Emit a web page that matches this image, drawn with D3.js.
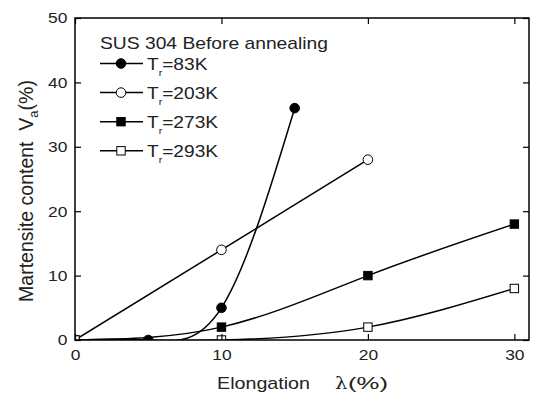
<!DOCTYPE html>
<html>
<head>
<meta charset="utf-8">
<script src="https://cdn.jsdelivr.net/npm/d3@7"></script>
<style>
  html, body { margin: 0; padding: 0; background: #fff; }
  svg { display: block; font-family: "Liberation Sans", Arial, sans-serif; }
</style>
</head>
<body>
<svg id="chart" width="533" height="396"></svg>
<script>
// data
const elong83 = [0, 5, 10, 15];
const va83 = [0, 0, 5, 36];
const elong203 = [0, 10, 20];
const va203 = [0, 14, 28];
const elong273 = [0, 10, 20, 30];
const va273 = [0, 2, 10, 18];
const elong293 = [0, 10, 20, 30];
const va293 = [0, 0, 2, 8];

const xTicks = [0, 10, 20, 30];
const yTicks = [0, 10, 20, 30, 40, 50];
const legendLabels = ['83K', '203K', '273K', '293K'];

const series = [
  { label: legendLabels[0], x: elong83, y: va83, shape: 'circle', fill: '#000' },
  { label: legendLabels[1], x: elong203, y: va203, shape: 'circle', fill: '#fff' },
  { label: legendLabels[2], x: elong273, y: va273, shape: 'square', fill: '#000' },
  { label: legendLabels[3], x: elong293, y: va293, shape: 'square', fill: '#fff' },
];

const margin = { left: 75, right: 4, top: 18, bottom: 56 };
const width = 533, height = 396;
const sx = 1.16; // the reference type is a bit wider than it is tall
const textColor = '#222';

const x = d3.scaleLinear().domain([0, 31]).range([margin.left, width - margin.right]);
const y = d3.scaleLinear().domain([0, 50]).range([height - margin.bottom, margin.top]);

const svg = d3.select('#chart');

svg.append('defs').append('clipPath').attr('id', 'plot')
  .append('rect')
  .attr('x', x(0)).attr('y', y(50))
  .attr('width', x(31) - x(0)).attr('height', y(0) - y(50));

const plot = svg.append('g').attr('clip-path', 'url(#plot)');

const line = d3.line()
  .x(d => x(d[0]))
  .y(d => y(d[1]))
  .curve(d3.curveNatural);

function marker(sel, shape, fill) {
  if (shape === 'circle') {
    sel.append('circle').attr('r', 4.8);
  } else {
    sel.append('rect').attr('x', -4.2).attr('y', -4.2).attr('width', 8.4).attr('height', 8.4);
  }
  sel.selectAll('circle,rect')
    .attr('fill', fill)
    .attr('stroke', '#000')
    .attr('stroke-width', 1);
}

series.forEach(s => {
  const pts = s.x.map((v, i) => [v, s.y[i]]);
  plot.append('path')
    .datum(pts)
    .attr('d', line)
    .attr('fill', 'none')
    .attr('stroke', '#000')
    .attr('stroke-width', 1.5);
});

series.forEach(s => {
  const pts = s.x.map((v, i) => [v, s.y[i]]);
  plot.selectAll(null)
    .data(pts)
    .join('g')
    .attr('transform', d => `translate(${x(d[0])},${y(d[1])})`)
    .each(function () { marker(d3.select(this), s.shape, s.fill); });
});

// axes, ticks pointing inward
const tickLen = 6;

const xAxis = svg.append('g')
  .attr('transform', `translate(0,${y(0)})`)
  .call(d3.axisBottom(x).tickValues(xTicks).tickSize(-tickLen).tickPadding(9).tickFormat(d3.format('d')));
const xAxisTop = svg.append('g')
  .attr('transform', `translate(0,${y(50)})`)
  .call(d3.axisTop(x).tickValues(xTicks).tickSize(-tickLen).tickFormat(''));
const yAxis = svg.append('g')
  .attr('transform', `translate(${x(0)},0)`)
  .call(d3.axisLeft(y).tickValues(yTicks).tickSize(-tickLen).tickPadding(6.5).tickFormat(d3.format('d')));
const yAxisRight = svg.append('g')
  .attr('transform', `translate(${x(31)},0)`)
  .call(d3.axisRight(y).tickValues(yTicks).tickSize(-tickLen).tickFormat(''));

[xAxis, xAxisTop, yAxis, yAxisRight].forEach(a => {
  a.select('.domain').remove();
  a.selectAll('line').attr('stroke', '#000').attr('stroke-width', 1.2);
  a.selectAll('text').attr('font-size', '15px').attr('fill', textColor)
    .attr('font-family', '"Liberation Sans", Arial, sans-serif')
    .attr('transform', `scale(${sx},1)`);
});

svg.append('rect')
  .attr('x', x(0)).attr('y', y(50))
  .attr('width', x(31) - x(0)).attr('height', y(0) - y(50))
  .attr('fill', 'none').attr('stroke', '#000').attr('stroke-width', 1.5);

// axis titles
svg.append('text')
  .attr('x', 217).attr('y', 389)
  .attr('font-size', '17px').attr('fill', textColor)
  .attr('textLength', 93).attr('lengthAdjust', 'spacingAndGlyphs')
  .text('Elongation');
svg.append('text')
  .attr('transform', `translate(335,389) scale(${sx},1)`)
  .attr('font-size', '17px').attr('fill', textColor)
  .attr('font-family', '"DejaVu Serif", serif')
  .text('λ');
svg.append('text')
  .attr('x', 348).attr('y', 389)
  .attr('font-size', '17px').attr('fill', textColor)
  .attr('textLength', 40).attr('lengthAdjust', 'spacingAndGlyphs')
  .text('(%)');

const yt = svg.append('text')
  .attr('transform', `translate(33,191) rotate(-90)`)
  .attr('text-anchor', 'middle')
  .attr('font-size', '19.5px').attr('fill', textColor)
  .attr('xml:space', 'preserve');
yt.append('tspan').text('Martensite content  V');
yt.append('tspan').attr('font-size', '13px').attr('dy', 5).text('a');
yt.append('tspan').attr('dy', -5).text('(%)');

// legend
const legend = svg.append('g');
legend.append('text')
  .attr('x', 100).attr('y', 48.5)
  .attr('font-size', '17px').attr('fill', textColor)
  .attr('textLength', 228).attr('lengthAdjust', 'spacingAndGlyphs')
  .text('SUS 304 Before annealing');

series.forEach((s, i) => {
  const ly = 63.5 + i * 29.1;
  const row = legend.append('g').attr('transform', `translate(0,${ly})`);
  row.append('line').attr('x1', 100).attr('x2', 143).attr('y1', 0).attr('y2', 0)
    .attr('stroke', '#000').attr('stroke-width', 1.5);
  const m = row.append('g').attr('transform', 'translate(121,0)');
  marker(m, s.shape, s.fill);
  const t = row.append('text')
    .attr('transform', `translate(147,6) scale(${sx},1)`)
    .attr('font-size', '16.5px').attr('fill', textColor);
  t.append('tspan').text('T');
  t.append('tspan').attr('font-size', '9px').attr('dy', 6).text('r');
  t.append('tspan').attr('dy', -6).text('=' + s.label);
});
</script>
</body>
</html>
